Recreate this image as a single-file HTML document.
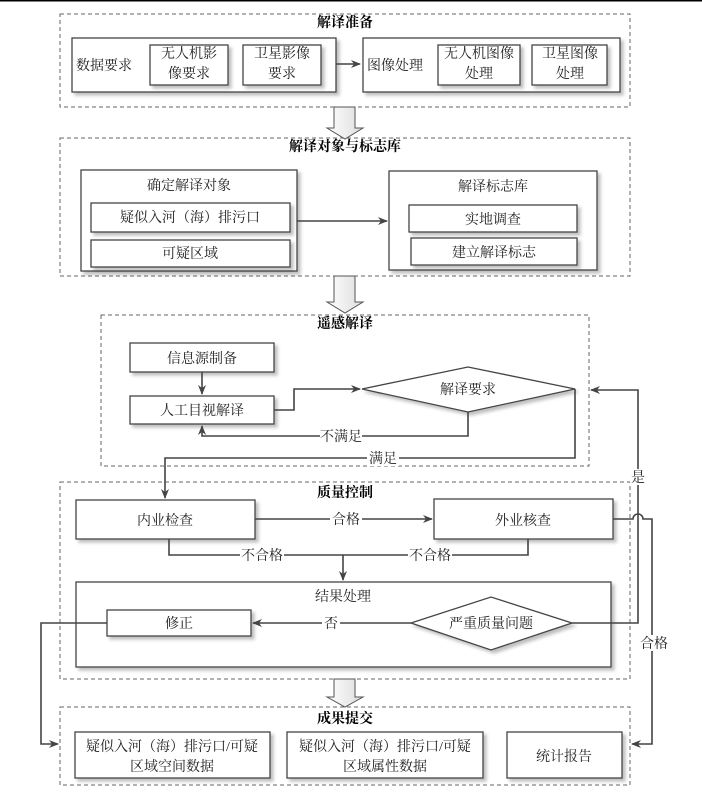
<!DOCTYPE html>
<html><head><meta charset="utf-8"><style>
html,body{margin:0;padding:0;background:#fff;}
svg text{font-family:"Liberation Serif","Noto Serif CJK SC","Noto Sans CJK SC",serif;font-size:14px;fill:#222;}
.t{font-weight:bold;fill:#000;}
</style></head><body>
<svg width="702" height="797" viewBox="0 0 702 797" xmlns="http://www.w3.org/2000/svg">
<defs>
<filter id="sh" x="-10%" y="-10%" width="130%" height="130%"><feDropShadow dx="3" dy="3" stdDeviation="1.5" flood-color="#000" flood-opacity="0.25"/></filter>
<marker id="ar" markerWidth="10" markerHeight="10" refX="9" refY="5" orient="auto" markerUnits="userSpaceOnUse"><path d="M0,1 L10,5 L0,9 L3,5 Z" fill="#444"/></marker>
<linearGradient id="ag" x1="0" x2="1"><stop offset="0" stop-color="#fff"/><stop offset="1" stop-color="#ddd"/></linearGradient>
</defs>
<line x1="0" y1="0.5" x2="702" y2="0.5" stroke="#000" stroke-width="2"/>
<g fill="none" stroke="#666" stroke-dasharray="4,3" stroke-width="1">
<rect x="60" y="14" width="570" height="93"/>
<rect x="60" y="138" width="570" height="138"/>
<rect x="101" y="315" width="488" height="151"/>
<rect x="60" y="482" width="570" height="197"/>
<rect x="60" y="707" width="570" height="78"/>
</g>
<!-- hollow arrows -->
<g fill="url(#ag)" stroke="#555" stroke-width="1">
<path d="M334,107 L355,107 L355,128 L363,128 L345,139 L327,128 L334,128 Z"/>
<path d="M334,276 L355,276 L355,302 L363,302 L345,313 L327,302 L334,302 Z"/>
<path d="M334,679 L355,679 L355,697 L363,697 L345,707 L327,697 L334,697 Z"/>
</g>
<g text-anchor="middle">
<text class="t" x="345" y="27">解译准备</text>
<text class="t" x="345" y="151">解译对象与标志库</text>
<text class="t" x="345" y="328">遥感解译</text>
<text class="t" x="345" y="497">质量控制</text>
<text class="t" x="345" y="723">成果提交</text>
</g>
<g fill="#fff" stroke="#444" stroke-width="1.3" filter="url(#sh)">
<rect x="72" y="38" width="264" height="54"/>
<rect x="363" y="38" width="257" height="54"/>
<rect x="81" y="170" width="216" height="101"/>
<rect x="389" y="171" width="208" height="99"/>
<rect x="130" y="343" width="144" height="29"/>
<rect x="130" y="396" width="144" height="28"/>
<polygon points="362,389 468,367 575,389 468,412"/>
<rect x="76" y="500" width="179" height="39"/>
<rect x="434" y="499" width="179" height="40"/>
<rect x="76" y="582" width="535" height="85"/>
<rect x="75" y="732" width="195" height="46"/>
<rect x="287" y="732" width="196" height="46"/>
<rect x="507" y="732" width="115" height="46"/>
</g>
<g fill="#fff" stroke="#444" stroke-width="1.3" filter="url(#sh)">
<rect x="150" y="45" width="78" height="40"/>
<rect x="243" y="45" width="78" height="40"/>
<rect x="438" y="45" width="82" height="40"/>
<rect x="532" y="45" width="75" height="40"/>
<rect x="91" y="203" width="199" height="29"/>
<rect x="91" y="240" width="199" height="27"/>
<rect x="409" y="205" width="168" height="27"/>
<rect x="411" y="238" width="166" height="27"/>
<rect x="107" y="610" width="144" height="26"/>
<polygon points="411,623 491,597 572,623 491,650"/>
</g>
<g fill="none" stroke="#444" stroke-width="1.6">
<line x1="336" y1="64" x2="360" y2="64" marker-end="url(#ar)"/>
<line x1="297" y1="221" x2="387" y2="221" marker-end="url(#ar)"/>
<line x1="202" y1="372" x2="202" y2="394" marker-end="url(#ar)"/>
<polyline points="274,410 294,410 294,389 360,389" marker-end="url(#ar)"/>
<polyline points="468,412 468,436 202,436 202,426" marker-end="url(#ar)"/>
<polyline points="575,389 575,458 165,458 165,498" marker-end="url(#ar)"/>
<line x1="255" y1="519" x2="432" y2="519" marker-end="url(#ar)"/>
<polyline points="169,539 169,555 528,555 528,539"/>
<line x1="343" y1="555" x2="343" y2="580" marker-end="url(#ar)"/>
<line x1="411" y1="623" x2="253" y2="623" marker-end="url(#ar)"/>
<polyline points="572,623 638,623 638,390 591,390" marker-end="url(#ar)"/>
<path d="M613,519 L633,519 A5,5 0 0 1 643,519 L652,519 L652,744 L632,744" marker-end="url(#ar)"/>
<polyline points="107,623 41,623 41,744 58,744" marker-end="url(#ar)"/>
</g>
<g text-anchor="middle">
<text x="189" y="58">无人机影</text><text x="189" y="78">像要求</text>
<text x="282" y="58">卫星影像</text><text x="282" y="78">要求</text>
<text x="479" y="58">无人机图像</text><text x="479" y="78">处理</text>
<text x="570" y="58">卫星图像</text><text x="570" y="78">处理</text>
<text x="189" y="190">确定解译对象</text>
<text x="190" y="222">疑似入河（海）排污口</text>
<text x="190" y="258">可疑区域</text>
<text x="493" y="191">解译标志库</text>
<text x="493" y="224">实地调查</text>
<text x="494" y="257">建立解译标志</text>
<text x="202" y="363">信息源制备</text>
<text x="202" y="415">人工目视解译</text>
<text x="468" y="394">解译要求</text>
<text x="165" y="525">内业检查</text>
<text x="523" y="525">外业核查</text>
<text x="343" y="601">结果处理</text>
<text x="179" y="628">修正</text>
<text x="491" y="628">严重质量问题</text>
<text x="172" y="751">疑似入河（海）排污口/可疑</text><text x="172" y="771">区域空间数据</text>
<text x="385" y="751">疑似入河（海）排污口/可疑</text><text x="385" y="771">区域属性数据</text>
<text x="564" y="761">统计报告</text>
</g>
<text x="76" y="70">数据要求</text>
<text x="367" y="70">图像处理</text>
<g text-anchor="middle">
<rect x="320" y="428" width="42" height="16" fill="#fff"/><text x="341" y="441">不满足</text>
<rect x="367" y="450" width="32" height="16" fill="#fff"/><text x="383" y="463">满足</text>
<rect x="330" y="511" width="32" height="16" fill="#fff"/><text x="346" y="524">合格</text>
<rect x="240" y="547" width="44" height="16" fill="#fff"/><text x="262" y="560">不合格</text>
<rect x="408" y="547" width="44" height="16" fill="#fff"/><text x="430" y="560">不合格</text>
<rect x="322" y="615" width="18" height="16" fill="#fff"/><text x="331" y="628">否</text>
<rect x="630" y="469" width="16" height="16" fill="#fff"/><text x="638" y="482">是</text>
<rect x="638" y="635" width="32" height="16" fill="#fff"/><text x="654" y="648">合格</text>
</g>
</svg>
</body></html>
